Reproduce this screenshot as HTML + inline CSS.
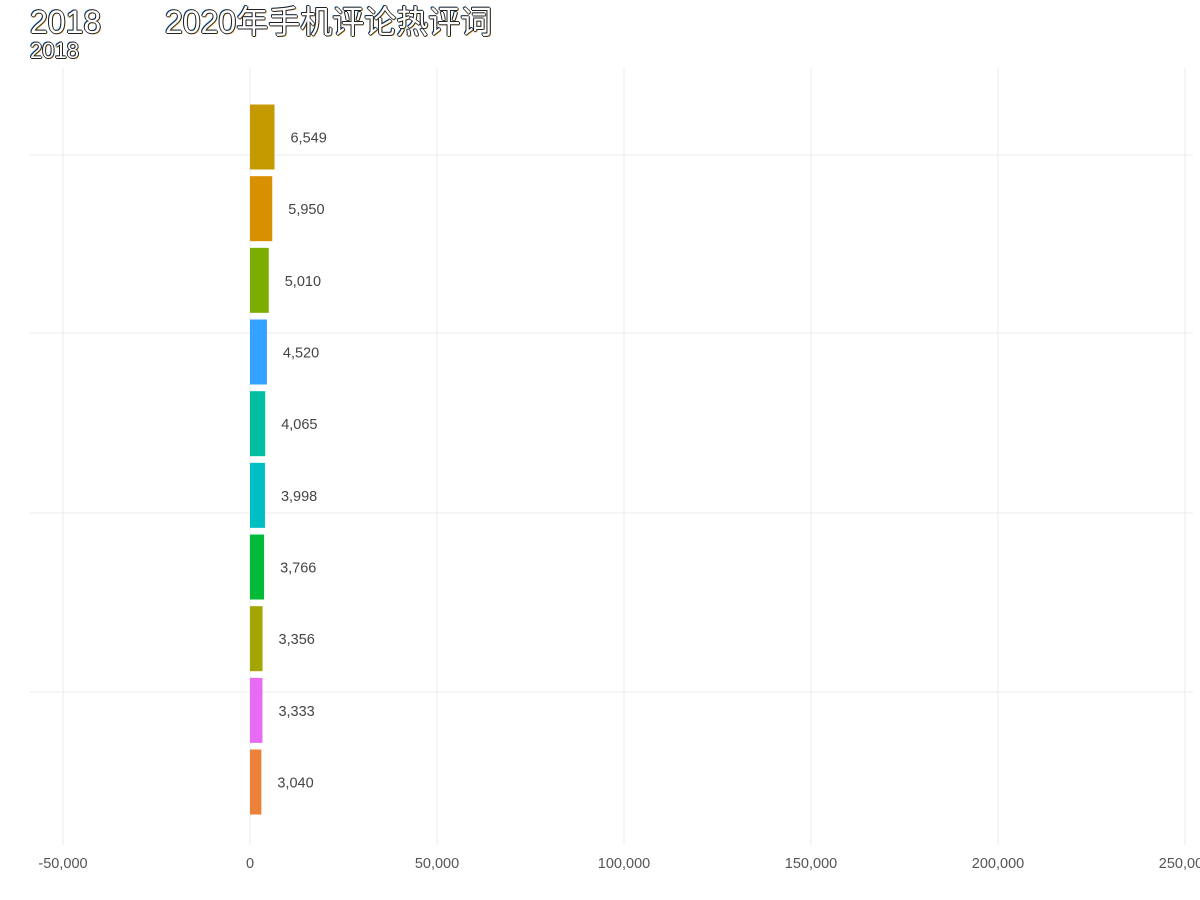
<!DOCTYPE html>
<html><head><meta charset="utf-8"><style>
body{margin:0;background:#fff;width:1200px;height:900px;overflow:hidden;font-family:"Liberation Sans","Noto Sans CJK SC",sans-serif}
.t{position:absolute;color:#fff;white-space:nowrap;text-shadow:-1px 0 #222,1px 0 #222,0 -1px #222,0 1px #222,1px 1px #c80,-1px -1px #06c}
</style></head><body>
<div class="t" style="left:30px;top:4px;font-size:32px;line-height:36px">2018</div>
<div class="t" style="left:165px;top:4px;font-size:32px;line-height:36px">2020年手机评论热评词</div>
<div class="t" style="left:30px;top:39px;font-size:22px;line-height:24px">2018</div>
<svg id="c" width="1200" height="900" style="position:absolute;left:0;top:0"></svg>
<script>
const values=[6549,5950,5010,4520,4065,3998,3766,3356,3333,3040];
const colors=["#C49A00","#D89000","#7CAE00","#35A2FF","#00BFA0","#00BFC4","#00BA38","#A3A500","#E76BF3","#EC8239"];
const ticks=[-50000,0,50000,100000,150000,200000,250000];
const hgrid=[155,333,513,692];
const svg=document.getElementById('c');const NS='http://www.w3.org/2000/svg';
const x=v=>250+v*187/50000;
const y=i=>137+i*71.67;
function mk(t,a){const e=document.createElementNS(NS,t);for(const k in a)e.setAttribute(k,a[k]);svg.appendChild(e);return e;}
hgrid.forEach(g=>{const l=mk('line',{x1:30,x2:1193,y1:g,y2:g,stroke:'#ebebeb'});

});
ticks.forEach(t=>{const l=mk('line',{x1:x(t),x2:x(t),y1:68,y2:845,stroke:'#ebebeb'});


const tx=mk('text',{x:x(t),y:868,'text-anchor':'middle','font-size':14.5,fill:'#555'});
tx.textContent=t.toLocaleString('en-US');

});
values.forEach((v,i)=>{const r=mk('rect',{x:x(0),y:y(i)-32.5,width:x(v)-x(0),height:65,fill:colors[i]});


const t=mk('text',{x:x(v)+16,y:y(i)+5.5,'font-size':14.5,fill:'#444'});
t.textContent=v.toLocaleString('en-US');

});
</script>
</body></html>
